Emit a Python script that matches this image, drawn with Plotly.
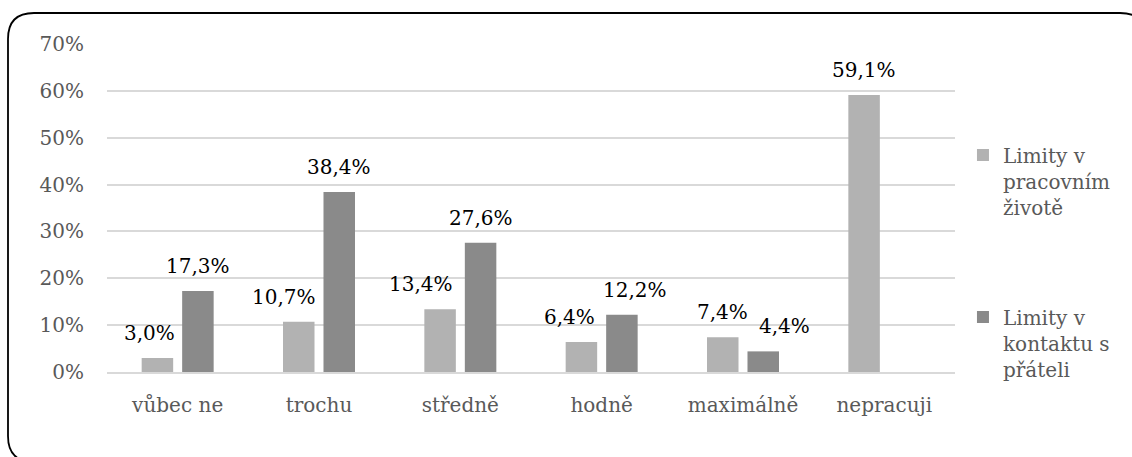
import plotly.graph_objects as go

# Categories and values (percent of respondents)
categories = ["vůbec ne", "trochu", "středně", "hodně", "maximálně", "nepracuji"]
work_limits = [3.0, 10.7, 13.4, 6.4, 7.4, 59.1]
friends_limits = [17.3, 38.4, 27.6, 12.2, 4.4, None]
series_names = ["Limity v<br>pracovním<br>životě", "Limity v<br>kontaktu s<br>přáteli"]
y_ticks = [0, 10, 20, 30, 40, 50, 60, 70]
y_tick_labels = [f"{v}%" for v in y_ticks]

FONT = "DejaVu Serif"
LIGHT = "#b2b2b2"
DARK = "#8a8a8a"
GRID = "#d9d9d9"
TICK_COLOR = "#595959"

W, H = 1132, 457
ML, MR, MT, MB = 107, 177, 44, 85
PW, PH = W - ML - MR, H - MT - MB

# horizontal offset of each bar centre from the category centre (px)
GROUP_OFFSET = 20.3
# sideways nudges for labels that would otherwise collide
work_nudge = [-8, -15, -19, -12, 0, 0]
friends_nudge = [0, 0, 0, 13, 21, 0]


def fmt(v):
    return f"{v:.1f}".replace(".", ",") + "%"


fig = go.Figure()
fig.add_trace(go.Bar(x=categories, y=work_limits, name=series_names[0],
                     marker=dict(color=LIGHT, line=dict(width=0)),
                     legendgroup="a", hoverinfo="skip"))
fig.add_trace(go.Bar(x=categories, y=friends_limits, name=series_names[1],
                     marker=dict(color=DARK, line=dict(width=0)),
                     legendgroup="b", hoverinfo="skip"))

# value labels above the bars
for vals, sign, nudges in ((work_limits, -1, work_nudge), (friends_limits, 1, friends_nudge)):
    for cat, v, n in zip(categories, vals, nudges):
        if v is None:
            continue
        fig.add_annotation(x=cat, y=v, text=fmt(v), showarrow=False,
                           xshift=sign * GROUP_OFFSET + n, yshift=25,
                           yanchor="middle", xanchor="center",
                           font=dict(family=FONT, size=20, color="#000000"))


def px_x(p):
    return (p - ML) / PW


def px_y(p):
    return (H - MB - p) / PH


# rounded outer frame
left, top, right, bottom, r = 8, 13, 1146, 462, 26
path = (
    f"M {px_x(left)},{px_y(top + r)} "
    f"Q {px_x(left)},{px_y(top)} {px_x(left + r)},{px_y(top)} "
    f"L {px_x(right - r)},{px_y(top)} "
    f"Q {px_x(right)},{px_y(top)} {px_x(right)},{px_y(top + r)} "
    f"L {px_x(right)},{px_y(bottom - r)} "
    f"Q {px_x(right)},{px_y(bottom)} {px_x(right - r)},{px_y(bottom)} "
    f"L {px_x(left + r)},{px_y(bottom)} "
    f"Q {px_x(left)},{px_y(bottom)} {px_x(left)},{px_y(bottom - r)} Z"
)
fig.add_shape(type="path", path=path, xref="paper", yref="paper",
              line=dict(color="#000000", width=1.8), fillcolor="rgba(0,0,0,0)")

fig.update_layout(
    width=W, height=H,
    margin=dict(l=ML, r=MR, t=MT, b=MB, pad=0),
    paper_bgcolor="white", plot_bgcolor="white",
    barmode="group", bargap=0.427, bargroupgap=0.222,
    font=dict(family=FONT, size=20, color=TICK_COLOR),
    legend=dict(x=1.0094, y=0.721, xanchor="left", yanchor="top",
                valign="top", tracegroupgap=81,
                font=dict(family=FONT, size=20, color=TICK_COLOR),
                bgcolor="rgba(0,0,0,0)"),
    showlegend=True,
)
fig.update_xaxes(showgrid=False, showline=True, linecolor=GRID, linewidth=1.5,
                 ticks="", ticklabelstandoff=14,
                 tickfont=dict(family=FONT, size=20, color=TICK_COLOR))
fig.update_yaxes(range=[0, 70], tickmode="array", tickvals=y_ticks,
                 ticktext=y_tick_labels,
                 showgrid=True, gridcolor=GRID, gridwidth=1.5,
                 zeroline=False, showline=False, ticks="",
                 ticklabelstandoff=22,
                 tickfont=dict(family=FONT, size=20, color=TICK_COLOR))

fig.write_html("out.html")
